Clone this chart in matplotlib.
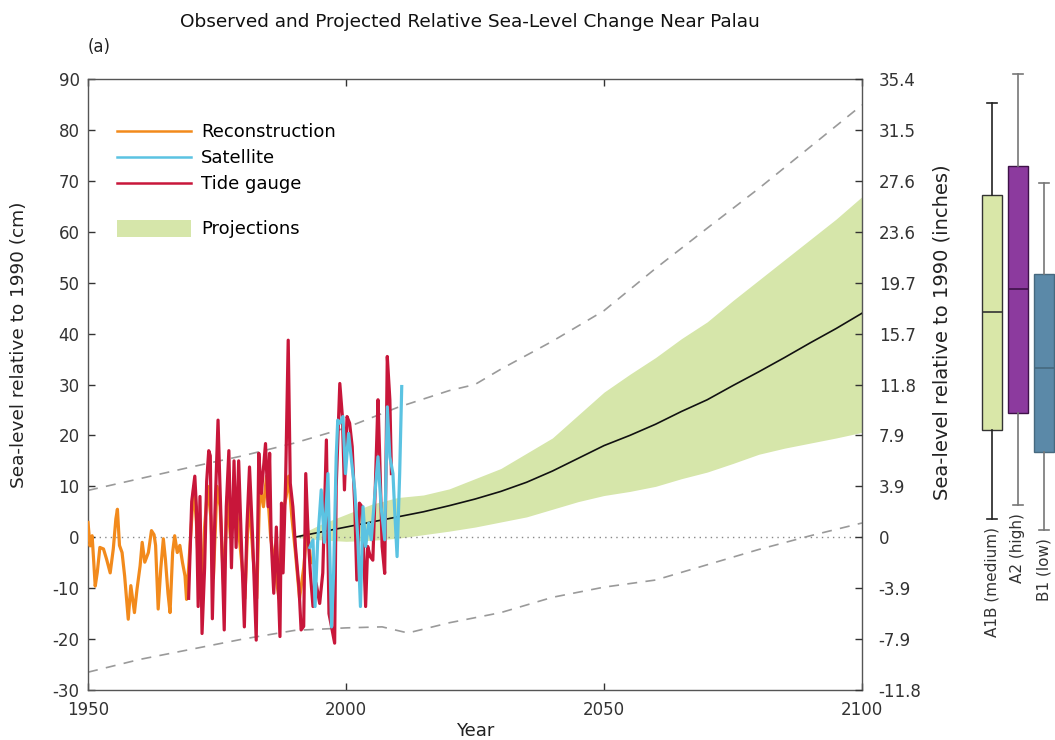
import numpy as np
import matplotlib
matplotlib.use('Agg')
import matplotlib.pyplot as plt
from matplotlib.patches import Patch
from matplotlib.lines import Line2D

plt.rcParams['font.family'] = ['DejaVu Sans']
plt.rcParams['axes.unicode_minus'] = False

# ---- observed series (cm, relative to 1990) ----
recon_years = [1950.0, 1950.4, 1950.8, 1951.4, 1951.8, 1952.3, 1953.0, 1953.6, 1954.3, 1954.9,
               1955.4, 1955.7, 1956.1, 1956.6, 1957.1, 1957.8, 1958.3, 1959.0, 1959.5, 1960.1,
               1960.5, 1961.0, 1961.7, 1962.3, 1962.8, 1963.1, 1963.6, 1964.1, 1964.6, 1965.0,
               1965.5, 1965.9, 1966.4, 1966.8, 1967.3, 1967.8, 1968.3, 1968.8, 1969.1, 1969.5,
               1970.0, 1970.5, 1971.0, 1971.5, 1972.0, 1972.6, 1973.2, 1973.8, 1974.3, 1975.0,
               1975.6, 1976.3, 1977.0, 1977.6, 1978.4, 1979.0, 1979.8, 1980.4, 1981.2, 1982.0,
               1982.7, 1983.3, 1984.0, 1984.6, 1985.4, 1986.2, 1987.0, 1987.6, 1988.4, 1988.9,
               1989.5, 1990.2, 1991.0, 1991.8, 1992.5, 1993.2]
recon_vals = [2.9, -1.7, 0.3, -9.6, -6.9, -2.0, -2.3, -4.3, -7.0, -2.3,
              3.6, 5.5, -1.6, -3.0, -7.6, -16.1, -9.5, -14.8, -10.2, -5.6,
              -1.0, -4.9, -3.0, 1.3, 0.5, -1.6, -14.1, -6.2, -0.3, -4.3,
              -11.0, -14.8, -3.0, 0.3, -3.0, -1.6, -4.9, -7.6, -12.2, -6.0,
              2.0, 10.0, 3.0, -8.0, -12.0, 2.0, 10.0, 4.0, -8.0, 10.0,
              6.0, -10.0, 8.0, 0.0, 10.0, 3.0, -5.0, -12.0, 8.0, -4.0,
              -12.0, 10.0, 6.0, 12.0, 0.0, -6.0, -12.0, 4.0, 8.0, 12.0,
              4.0, -3.0, -12.0, -6.0, 2.0, -5.0]

tide_years = [1969.5, 1970.1, 1970.7, 1971.0, 1971.35, 1971.7, 1972.1, 1972.6, 1973.0, 1973.4,
              1973.7, 1974.1, 1974.6, 1975.2, 1975.5, 1975.9, 1976.4, 1976.8, 1977.3, 1977.8,
              1978.3, 1978.7, 1979.2, 1979.7, 1980.3, 1980.8, 1981.3, 1981.9, 1982.6, 1983.1,
              1983.6, 1984.4, 1984.9, 1985.2, 1985.5, 1986.0, 1986.5, 1987.2, 1987.5, 1987.8,
              1988.3, 1988.8, 1989.2, 1989.7, 1990.2, 1990.9, 1991.3, 1991.8, 1992.2, 1992.7,
              1993.1, 1993.6, 1994.2, 1994.9, 1995.5, 1996.2, 1996.7, 1997.2, 1997.8, 1998.1,
              1998.8, 1999.3, 1999.7, 2000.2, 2000.7, 2001.2, 2001.7, 2002.1, 2002.6, 2003.1,
              2003.8, 2004.2, 2004.7, 2005.2, 2005.7, 2006.2, 2006.5, 2007.0, 2007.5, 2008.0,
              2008.5, 2008.8]
tide_vals = [-12.0, 7.0, 12.0, 6.0, -13.6, 8.0, -18.9, -6.0, 11.0, 17.0,
             16.0, -16.0, 4.7, 23.0, 12.5, -0.5, -18.2, 6.0, 17.0, -6.0,
             15.0, -2.0, 15.0, -0.5, -17.6, 2.0, 13.8, 0.0, -20.2, 16.5,
             8.6, 18.4, 6.0, 16.5, -0.5, -11.0, 2.0, -19.5, 6.7, -7.0,
             11.2, 38.7, 10.6, 6.0, -1.8, -10.0, -18.2, -17.5, 12.5, -0.5,
             -7.1, -13.6, -9.0, -13.0, -7.0, 19.1, -15.0, -17.6, -20.8, 10.0,
             30.2, 23.7, 9.3, 23.7, 22.4, 17.8, 6.0, -8.4, 6.7, 6.0,
             -13.6, -1.8, -3.8, -4.5, 10.6, 27.0, 17.0, -1.8, -7.1, 35.5,
             27.0, 12.5]

sat_years = [1993.0, 1993.6, 1994.0, 1994.5, 1995.2, 1995.8, 1996.5, 1997.2, 1997.6, 1998.1,
             1998.4, 1998.8, 1999.4, 1999.9, 2000.5, 2001.2, 2001.7, 2002.3, 2002.8, 2003.3,
             2003.8, 2004.4, 2004.9, 2005.5, 2006.2, 2006.8, 2007.5, 2008.0, 2008.5, 2009.1,
             2009.4, 2009.9, 2010.4, 2010.8]
sat_vals = [-2.0, -0.5, -13.6, -1.0, 9.3, -1.0, 12.5, -17.6, -7.0, 15.8,
            23.0, 22.4, 23.7, 12.5, 20.4, 13.8, 9.3, -0.5, -13.6, 6.0,
            -1.8, 2.8, -0.5, 7.3, 15.8, 6.0, -0.5, 25.6, 15.8, 12.5,
            6.0, -3.8, 12.5, 29.6]

# ---- projections ----
proj_years = [1990, 1995, 2000, 2005, 2010, 2015, 2020, 2025, 2030, 2035, 2040, 2045,
              2050, 2055, 2060, 2065, 2070, 2075, 2080, 2085, 2090, 2095, 2100]
proj_upper = [0.0, 2.5, 4.5, 6.5, 7.8, 8.3, 9.5, 11.5, 13.5, 16.5, 19.5, 24.0,
              28.5, 32.0, 35.3, 39.0, 42.3, 46.5, 50.5, 54.5, 58.5, 62.5, 66.9]
proj_lower = [0.0, -0.5, -0.8, -0.6, -0.2, 0.5, 1.2, 2.0, 3.0, 4.0, 5.5, 7.0,
              8.2, 9.0, 10.0, 11.5, 12.8, 14.5, 16.3, 17.5, 18.5, 19.5, 20.6]
proj_mean = [0.0, 1.0, 2.0, 3.0, 4.0, 5.0, 6.2, 7.5, 9.0, 10.8, 13.0, 15.5,
             18.0, 20.0, 22.2, 24.7, 27.0, 29.8, 32.5, 35.3, 38.2, 41.0, 44.0]

env_years = [1950, 1960, 1970, 1980, 1990, 2000, 2010, 2020, 2025, 2030, 2040,
             2050, 2060, 2070, 2080, 2090, 2100]
env_upper = [9.2, 11.5, 13.8, 16.0, 18.5, 21.5, 25.5, 28.8, 30.0, 33.0, 38.5,
             44.5, 52.8, 60.7, 68.5, 76.7, 84.9]
env_low_years = [1950, 1960, 1970, 1980, 1990, 2000, 2007, 2012, 2020, 2030, 2040,
                 2050, 2060, 2070, 2080, 2090, 2100]
env_lower = [-26.5, -24.0, -22.0, -20.0, -18.3, -17.8, -17.6, -18.8, -16.8, -14.8, -11.8,
             -9.8, -8.4, -5.4, -2.4, 0.3, 2.8]

# ---- 2100 scenario ranges (cm) ----
scenarios = ['A1B (medium)', 'A2 (high)', 'B1 (low)']
sc_whislo = [3.6, 6.3, 1.4]
sc_q1 = [21.0, 24.5, 16.7]
sc_med = [44.2, 48.8, 33.2]
sc_q3 = [67.3, 72.9, 51.7]
sc_whishi = [85.3, 90.9, 69.6]

cm_ticks = [-30, -20, -10, 0, 10, 20, 30, 40, 50, 60, 70, 80, 90]
year_ticks = [1950, 2000, 2050, 2100]

c_recon = '#f28a1c'
c_sat = '#5bc3e2'
c_tide = '#c8163a'
c_proj = '#d6e6aa'
c_env = '#9a9a9a'
c_axis = '#333333'

W, H = 1055, 740
fig = plt.figure(figsize=(W / 100, H / 100), dpi=100)
ax = fig.add_axes([88 / W, 50 / H, 774 / W, 611 / H])

ax.fill_between(proj_years, proj_lower, proj_upper, color=c_proj, lw=0, zorder=1)
ax.axhline(0, color='#888888', lw=1.0, ls=(0, (1, 3)), zorder=1.5)
ax.plot(env_years, env_upper, color=c_env, lw=1.2, ls=(0, (6, 5)), zorder=2)
ax.plot(env_low_years, env_lower, color=c_env, lw=1.2, ls=(0, (6, 5)), zorder=2)
ax.plot(proj_years, proj_mean, color='#111111', lw=1.2, zorder=3)

ax.plot(recon_years, recon_vals, color=c_recon, lw=2.3, zorder=4)
ax.plot(tide_years, tide_vals, color=c_tide, lw=2.3, zorder=5)
ax.plot(sat_years, sat_vals, color=c_sat, lw=2.3, zorder=6)

ax.set_xlim(1950, 2100)
ax.set_ylim(-30, 90)
ax.set_xticks(year_ticks)
ax.set_yticks(cm_ticks)
ax.tick_params(axis='both', direction='in', length=5, width=1, colors=c_axis,
               labelsize=12, top=True, right=False)
ax.tick_params(axis='y', pad=6)
ax.tick_params(axis='x', pad=8)
for s in ax.spines.values():
    s.set_color('#555555')
    s.set_linewidth(1.0)

ax.set_xlabel('Year', fontsize=13, color='#222222', labelpad=2)
ax.set_ylabel('Sea-level relative to 1990 (cm)', fontsize=13.3, color='#222222')
ax.yaxis.set_label_coords(-0.077, 0.565)

# inches axis on the right
ax2 = ax.twinx()
ax2.set_ylim(-30 / 2.54, 90 / 2.54)
ax2.set_yticks([c / 2.54 for c in cm_ticks])
ax2.yaxis.set_major_formatter(plt.FuncFormatter(lambda v, p: '0' if abs(v) < 1e-9 else f'{v:.1f}'))
ax2.tick_params(axis='y', direction='in', length=5, width=1, colors=c_axis, labelsize=12, pad=12)
ax2.set_ylabel('Sea-level relative to 1990 (inches)', fontsize=14, color='#222222')
ax2.yaxis.set_label_coords(1.091, 0.585)
for s in ax2.spines.values():
    s.set_visible(False)

# legends
line_handles = [Line2D([], [], color=c_recon, lw=1.8),
                Line2D([], [], color=c_sat, lw=1.8),
                Line2D([], [], color=c_tide, lw=1.8)]
leg1 = ax.legend(line_handles, ['Reconstruction', 'Satellite', 'Tide gauge'],
                 loc='upper left', bbox_to_anchor=(0.038, 0.928), frameon=False,
                 fontsize=13, handlelength=4.1, handletextpad=0.55, labelspacing=0.45,
                 borderpad=0, borderaxespad=0)
ax.add_artist(leg1)
leg2 = ax.legend([Patch(facecolor=c_proj, edgecolor='none')], ['Projections'],
                 loc='upper left', bbox_to_anchor=(0.038, 0.77), frameon=False,
                 fontsize=13, handlelength=4.1, handleheight=1.1, handletextpad=0.55,
                 borderpad=0, borderaxespad=0)

# scenario box plots
bax = fig.add_axes([975 / W, 50 / H, 80 / W, 611 / H])
bax.set_ylim(-30, 90)
bax.set_xlim(0.36, 3.42)
bax.axis('off')
stats = [dict(med=sc_med[i], q1=sc_q1[i], q3=sc_q3[i], whislo=sc_whislo[i],
              whishi=sc_whishi[i], label=scenarios[i]) for i in range(3)]
bp = bax.bxp(stats, positions=[1, 2, 3], widths=0.77, showfliers=False, patch_artist=True)
box_fc = ['#d9e7a8', '#8c3a9e', '#5b89a8']
box_ec = ['#333333', '#3e1248', '#46697f']
wh_c = ['#222222', '#777777', '#777777']
for i in range(3):
    bp['boxes'][i].set(facecolor=box_fc[i], edgecolor=box_ec[i], linewidth=1.0)
    bp['medians'][i].set(color=box_ec[i], linewidth=1.2)
    for j in (2 * i, 2 * i + 1):
        bp['whiskers'][j].set(color=wh_c[i], linewidth=1.2)
        bp['caps'][j].set(color=wh_c[i], linewidth=1.2)
for group in bp.values():
    for art in group:
        art.set_clip_on(False)
for i in range(3):
    bax.text(i + 1, sc_whislo[i] - 1.5, scenarios[i], rotation=90, ha='center', va='top',
             fontsize=11, color='#333333')

fig.text(470 / W, 1 - 22 / H, 'Observed and Projected Relative Sea-Level Change Near Palau',
         ha='center', va='center', fontsize=13.3, color='#111111')
fig.text(88 / W, 1 - 47 / H, '(a)', ha='left', va='center', fontsize=12, color='#222222')

fig.savefig('out.png', dpi=100)
